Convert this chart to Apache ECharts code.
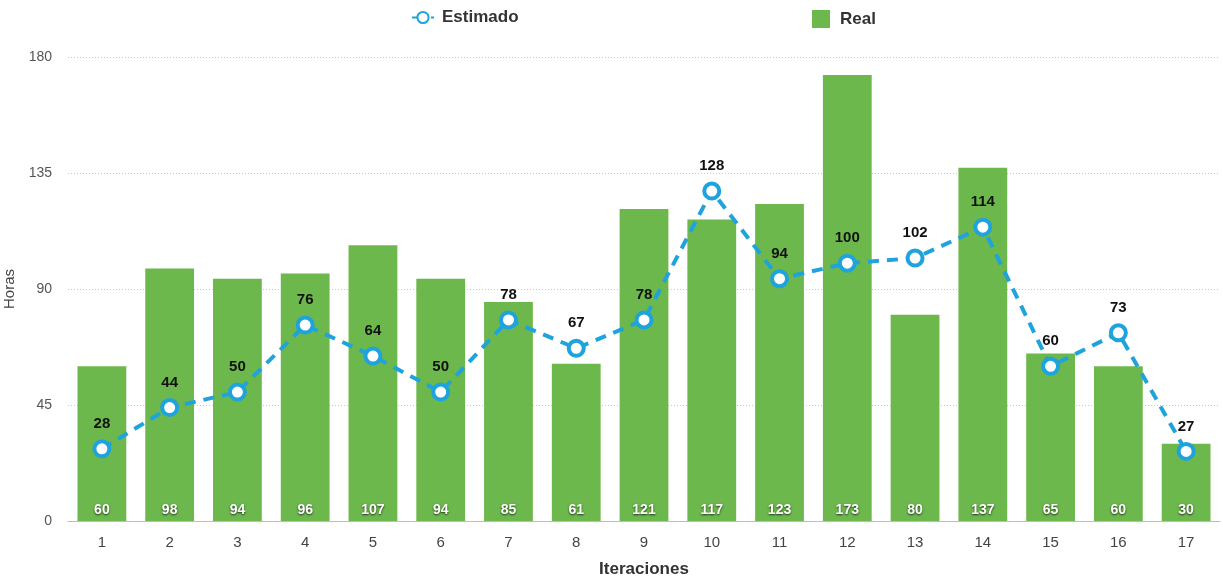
<!DOCTYPE html>
<html>
<head>
<meta charset="utf-8">
<script src="https://cdn.jsdelivr.net/npm/echarts@6/dist/echarts.min.js"></script>
<style>
  html, body { margin: 0; padding: 0; background: #fff; }
  #chart { width: 1223px; height: 578px; }
</style>
</head>
<body>
<div id="chart"></div>
<script>
// Iteration numbers on the x axis
const iteraciones = ['1','2','3','4','5','6','7','8','9','10','11','12','13','14','15','16','17'];
// Actual hours per iteration
const real = [60, 98, 94, 96, 107, 94, 85, 61, 121, 117, 123, 173, 80, 137, 65, 60, 30];
// Estimated hours per iteration
const estimado = [28, 44, 50, 76, 64, 50, 78, 67, 78, 128, 94, 100, 102, 114, 60, 73, 27];

const FONT = '"Liberation Sans", Arial, Helvetica, sans-serif';
const BLUE = '#1fa3dc';
const GREEN = '#6cb84c';

const chart = echarts.init(document.getElementById('chart'), null, { renderer: 'canvas' });

chart.setOption({
  animation: false,
  textStyle: { fontFamily: FONT },
  legend: [
    {
      data: ['Estimado'],
      left: 406, top: 4,
      itemWidth: 22, itemHeight: 14,
      itemGap: 8,
      textStyle: { fontFamily: FONT, fontSize: 17, fontWeight: 'bold', color: '#333', padding: [0, 0, 0, 3] }
    },
    {
      data: [{ name: 'Real', icon: 'rect' }],
      left: 807, top: 5,
      itemWidth: 18, itemHeight: 18,
      textStyle: { fontFamily: FONT, fontSize: 17, fontWeight: 'bold', color: '#333', padding: [0, 0, 0, 5] }
    }
  ],
  grid: { left: 68, right: 3, top: 57, bottom: 57, outerBoundsMode: 'none' },
  xAxis: {
    type: 'category',
    data: iteraciones,
    name: 'Iteraciones',
    nameLocation: 'middle',
    nameGap: 40,
    nameTextStyle: { fontFamily: FONT, fontSize: 17, fontWeight: 'bold', color: '#333' },
    axisLine: { lineStyle: { color: '#bdbdbd', width: 1 } },
    axisTick: { show: false },
    axisLabel: { color: '#444', fontSize: 15, margin: 14, fontFamily: FONT }
  },
  yAxis: {
    type: 'value',
    min: 0, max: 180, interval: 45,
    name: 'Horas',
    nameLocation: 'middle',
    nameGap: 49,
    nameRotate: 90,
    nameTextStyle: { fontFamily: FONT, fontSize: 15, color: '#444' },
    axisLine: { show: false },
    axisTick: { show: false },
    axisLabel: { color: '#555', fontSize: 14, margin: 16, fontFamily: FONT },
    splitLine: { lineStyle: { color: '#c8c8c8', type: [1, 2], width: 1 } }
  },
  series: [
    {
      name: 'Real',
      type: 'bar',
      data: real,
      barCategoryGap: '28%',
      itemStyle: { color: GREEN },
      label: {
        show: true,
        position: 'insideBottom',
        distance: 4,
        color: '#fff',
        fontFamily: FONT,
        fontSize: 14,
        fontWeight: 'bold',
        textShadowColor: 'rgba(0,0,0,0.75)',
        textShadowBlur: 2,
        textShadowOffsetX: 0,
        textShadowOffsetY: 1
      },
      z: 1
    },
    {
      name: 'Estimado',
      type: 'line',
      data: estimado,
      symbol: 'circle',
      symbolSize: 15,
      lineStyle: { color: BLUE, width: 4, type: [11, 8] },
      itemStyle: { color: '#fff', borderColor: BLUE, borderWidth: 4 },
      label: {
        show: true,
        position: 'top',
        distance: 8,
        color: '#111',
        fontFamily: FONT,
        fontSize: 15,
        fontWeight: 'bold'
      },
      z: 3
    }
  ]
});
</script>
</body>
</html>
